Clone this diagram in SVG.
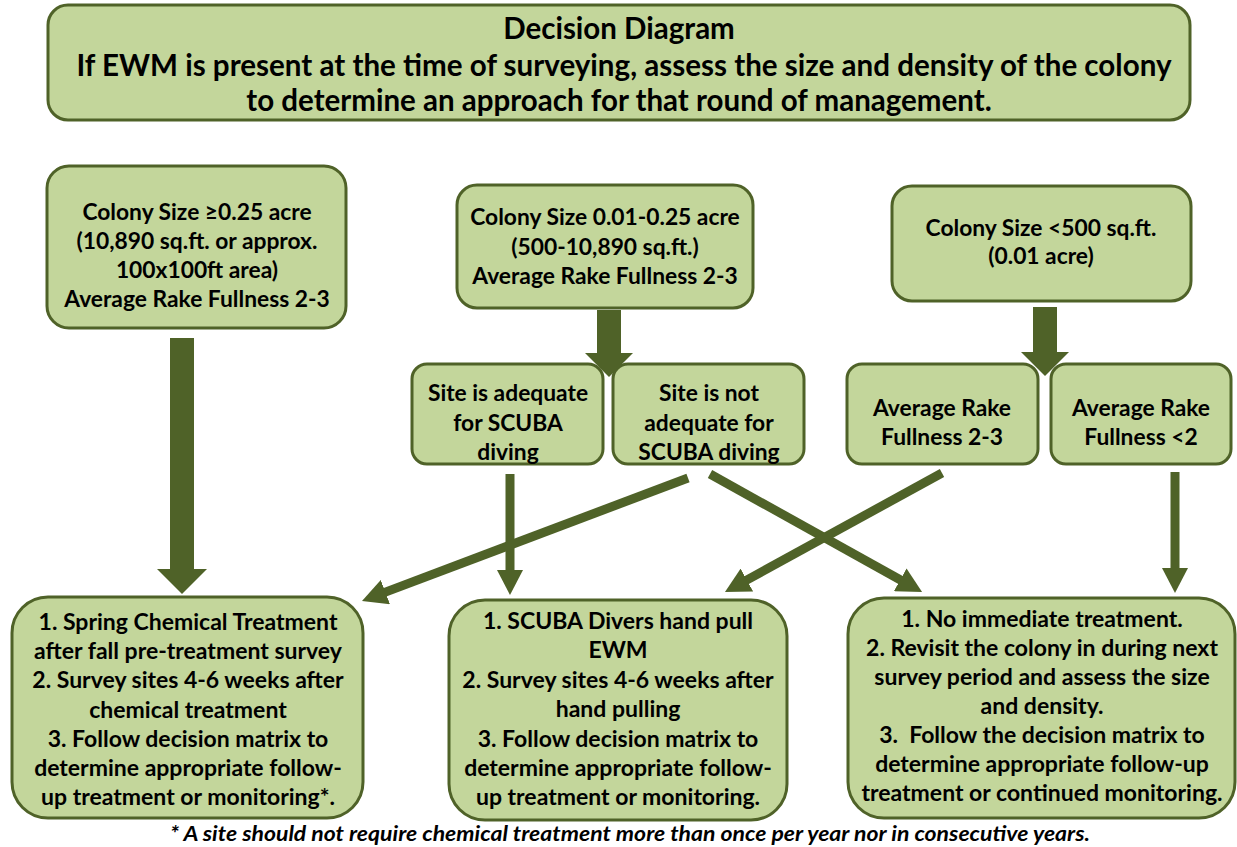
<svg xmlns="http://www.w3.org/2000/svg" width="1237" height="847" viewBox="0 0 1237 847">
<style>
.box{fill:#c3d69b;stroke:#4f6228;stroke-width:3}
.t{font-family:Lato,"Open Sans","DejaVu Sans",sans-serif;font-weight:bold;fill:#000;text-anchor:middle}
.s20{font-size:22.8px}
.s21{font-size:23px}
.ttl{font-size:29.5px}
.foot{font-family:Lato,"Open Sans","DejaVu Sans",sans-serif;font-weight:bold;font-style:italic;font-size:20px;text-anchor:middle}
.ln{stroke:#4f6228;stroke-width:9;fill:none;marker-end:url(#ah)}
.big{fill:#4f6228}
</style>
<defs>
<marker id="ah" markerUnits="userSpaceOnUse" viewBox="0 0 25 26" markerWidth="25" markerHeight="26" refX="5" refY="13" orient="auto">
<path d="M0,0 L25,13 L0,26 z" fill="#4f6228"/>
</marker>
</defs>

<g id="title">
<rect class="box" x="48" y="5" width="1142" height="115" rx="20"/>
<text class="t ttl" x="619" y="39">Decision Diagram</text>
<text class="t ttl" x="624" y="76" textLength="1095" lengthAdjust="spacingAndGlyphs">If EWM is present at the time of surveying, assess the size and density of the colony</text>
<text class="t ttl" x="619" y="111">to determine an approach for that round of management.</text>
</g>

<g id="n-large">
<rect class="box" x="47" y="166" width="299" height="162" rx="22"/>
<text class="t s20" x="197" y="220">Colony Size ≥0.25 acre</text>
<text class="t s20" x="197" y="249">(10,890 sq.ft. or approx.</text>
<text class="t s20" x="197" y="278">100x100ft area)</text>
<text class="t s20" x="197" y="307">Average Rake Fullness 2-3</text>
</g>

<g id="n-medium">
<rect class="box" x="457" y="185" width="296" height="123" rx="20"/>
<text class="t s20" x="605" y="225">Colony Size 0.01-0.25 acre</text>
<text class="t s20" x="605" y="255">(500-10,890 sq.ft.)</text>
<text class="t s20" x="605" y="284">Average Rake Fullness 2-3</text>
</g>

<g id="n-small">
<rect class="box" x="892" y="186" width="299" height="115" rx="20"/>
<text class="t s20" x="1041" y="236">Colony Size &lt;500 sq.ft.</text>
<text class="t s20" x="1041" y="264">(0.01 acre)</text>
</g>

<g id="n-scuba-yes">
<rect class="box" x="412" y="364" width="191" height="100" rx="15"/>
<text class="t s20" x="508" y="401">Site is adequate</text>
<text class="t s20" x="508" y="431">for SCUBA</text>
<text class="t s20" x="508" y="460">diving</text>
</g>

<g id="n-scuba-no">
<rect class="box" x="613" y="364" width="191" height="100" rx="15"/>
<text class="t s20" x="709" y="401">Site is not</text>
<text class="t s20" x="709" y="431">adequate for</text>
<text class="t s20" x="709" y="460">SCUBA diving</text>
</g>

<g id="n-rake-23">
<rect class="box" x="847" y="364" width="191" height="100" rx="15"/>
<text class="t s20" x="942" y="416">Average Rake</text>
<text class="t s20" x="942" y="445">Fullness 2-3</text>
</g>

<g id="n-rake-lt2">
<rect class="box" x="1051" y="364" width="180" height="100" rx="15"/>
<text class="t s20" x="1141" y="416">Average Rake</text>
<text class="t s20" x="1141" y="445">Fullness &lt;2</text>
</g>

<g id="n-chem">
<rect class="box" x="12" y="597" width="351" height="221" rx="36"/>
<text class="t s21" x="188" y="630">1. Spring Chemical Treatment</text>
<text class="t s21" x="188" y="659">after fall pre-treatment survey</text>
<text class="t s21" x="188" y="688">2. Survey sites 4-6 weeks after</text>
<text class="t s21" x="188" y="718">chemical treatment</text>
<text class="t s21" x="188" y="747">3. Follow decision matrix to</text>
<text class="t s21" x="188" y="776">determine appropriate follow-</text>
<text class="t s21" x="188" y="805">up treatment or monitoring*.</text>
</g>

<g id="n-hand">
<rect class="box" x="449" y="600" width="338" height="220" rx="36"/>
<text class="t s21" x="618" y="629">1. SCUBA Divers hand pull</text>
<text class="t s21" x="618" y="658">EWM</text>
<text class="t s21" x="618" y="688">2. Survey sites 4-6 weeks after</text>
<text class="t s21" x="618" y="717">hand pulling</text>
<text class="t s21" x="618" y="747">3. Follow decision matrix to</text>
<text class="t s21" x="618" y="776">determine appropriate follow-</text>
<text class="t s21" x="618" y="805">up treatment or monitoring.</text>
</g>

<g id="n-none">
<rect class="box" x="848" y="598" width="387" height="220" rx="36"/>
<text class="t s21" x="1042" y="627">1. No immediate treatment.</text>
<text class="t s21" x="1042" y="656">2. Revisit the colony in during next</text>
<text class="t s21" x="1042" y="685">survey period and assess the size</text>
<text class="t s21" x="1042" y="714">and density.</text>
<text class="t s21" x="1042" y="743" xml:space="preserve">3.  Follow the decision matrix to</text>
<text class="t s21" x="1042" y="772">determine appropriate follow-up</text>
<text class="t s21" x="1042" y="801">treatment or continued monitoring.</text>
</g>

<g id="connectors">
<polygon class="big" points="170,338 194,338 194,569 207,569 182,594 157,569 170,569"/>
<polygon class="big" points="597,310 621,310 621,353 633,353 609,377 585,353 597,353"/>
<polygon class="big" points="1033,307 1057,307 1057,352 1069,352 1045,376 1021,352 1033,352"/>
<line class="ln" x1="510" y1="474" x2="510" y2="575"/>
<line class="ln" x1="688" y1="478" x2="380.7" y2="593.9"/>
<line class="ln" x1="710" y1="474" x2="904.6" y2="582.2"/>
<line class="ln" x1="942" y1="473" x2="742.5" y2="582.4"/>
<line class="ln" x1="1175" y1="472" x2="1175" y2="573"/>
</g>

<text class="foot" x="630" y="841" textLength="920" lengthAdjust="spacingAndGlyphs">* A site should not require chemical treatment more than once per year nor in consecutive years.</text>
</svg>
